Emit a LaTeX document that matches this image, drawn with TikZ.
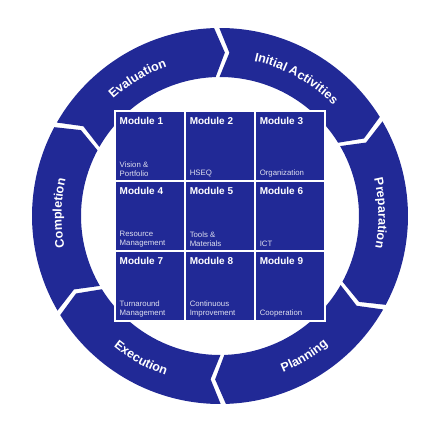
\documentclass[tikz,border=0pt]{standalone}
\usepackage{fontspec}
\setmainfont{Liberation Sans}
\usepackage{xcolor}
\usetikzlibrary{positioning,decorations.text}
\definecolor{cycleblue}{RGB}{33,41,150}
\newcommand\ringfont{\fontsize{12.5}{14}\selectfont\bfseries}

\begin{document}
\begin{tikzpicture}[x=1pt,y=1pt,
  modbox/.style={fill=cycleblue, minimum size=67.5pt, inner sep=0, outer sep=0},
  modtitle/.style={text=white, font=\fontsize{10}{12}\selectfont\bfseries, inner sep=0},
  modnote/.style={text=white!85!cycleblue, font=\fontsize{7.8}{9.4}\selectfont, inner sep=0, align=left},
  ringtext/.style={decorate, decoration={text along path, text align=center, text color=white, text={|\ringfont|#1}}}]
\useasboundingbox (-220,-212) rectangle (208,216);
\foreach \b in {151,91,31,-29,-89,-149}
  \fill[cycleblue] (\b-0.8:188) arc[start angle=\b-0.8, end angle=\b-59.2, radius=188pt]
    -- (\b-62.7:163.5) -- (\b-59.2:139) arc[start angle=\b-59.2, end angle=\b-0.8, radius=139pt]
    -- (\b-4.3:163.5) -- cycle;
\path[ringtext=Evaluation] (161:158.5) arc[start angle=161, end angle=81, radius=158.5pt];
\path[ringtext=Initial Activities] (101:158.5) arc[start angle=101, end angle=21, radius=158.5pt];
\path[ringtext=Preparation] (41:158.5) arc[start angle=41, end angle=-39, radius=158.5pt];
\path[ringtext=Planning] (-99:168.5) arc[start angle=-99, end angle=-19, radius=168.5pt];
\path[ringtext=Execution] (-159:168.5) arc[start angle=-159, end angle=-79, radius=168.5pt];
\path[ringtext=Completion] (219:158.5) arc[start angle=219, end angle=139, radius=158.5pt];
\fill[white] (-106.25,-106.25) rectangle (106.25,106.25);
\foreach \n/\x/\y/\note in {1/-70/70/{Vision \&\\Portfolio}, 2/0/70/{HSEQ}, 3/70/70/{Organization},
    4/-70/0/{Resource\\Management}, 5/0/0/{Tools \&\\Materials}, 6/70/0/{ICT},
    7/-70/-70/{Turnaround\\Management}, 8/0/-70/{Continuous\\Improvement}, 9/70/-70/{Cooperation}} {
  \node[modbox] (m\n) at (\x,\y) {};
  \node[modtitle, below right=5pt and 3.3pt of m\n.north west] (t\n) {Module \n};
  \node[modnote, above right=2.5pt and 3.3pt of m\n.south west] (d\n) {\note};
}
\end{tikzpicture}
\end{document}
